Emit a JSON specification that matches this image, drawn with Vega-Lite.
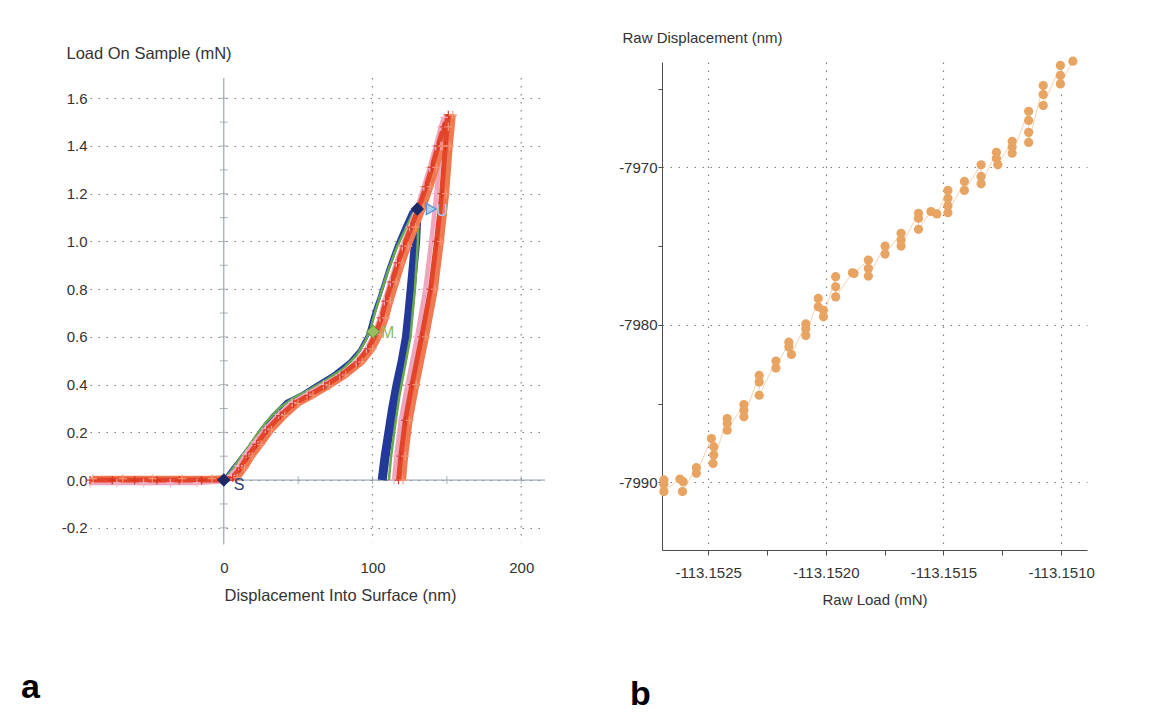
{
  "$schema": "https://vega.github.io/schema/vega-lite/v6.json",
  "background": "white",
  "padding": {"left": 21, "top": 30, "right": 10, "bottom": 4},
  "bounds": "flush",
  "spacing": 117,
  "config": {
    "view": {"stroke": null},
    "axis": {
      "labelFont": "Liberation Sans", "titleFont": "Liberation Sans",
      "labelFontSize": 15, "titleFontSize": 15,
      "labelColor": "#333333", "titleColor": "#333333", "titleFontWeight": "normal",
      "gridColor": "#808080", "gridDash": [1.5, 6.5], "gridWidth": 1.2
    }
  },
  "datasets": {
    "curves": [
      {"s":"A","o":1,"d":-90,"p":0},{"s":"A","o":2,"d":-45,"p":0},{"s":"A","o":3,"d":0,"p":0},{"s":"A","o":4,"d":5,"p":0.042},{"s":"A","o":5,"d":10.6,"p":0.087},{"s":"A","o":6,"d":17.3,"p":0.14},{"s":"A","o":7,"d":24,"p":0.202},{"s":"A","o":8,"d":33,"p":0.272},{"s":"A","o":9,"d":42,"p":0.328},{"s":"A","o":10,"d":51,"p":0.356},{"s":"A","o":11,"d":62,"p":0.398},{"s":"A","o":12,"d":73,"p":0.44},{"s":"A","o":13,"d":84.5,"p":0.496},{"s":"A","o":14,"d":91.3,"p":0.545},{"s":"A","o":15,"d":96.8,"p":0.608},{"s":"A","o":16,"d":100.2,"p":0.684},{"s":"A","o":17,"d":102.5,"p":0.73},{"s":"A","o":18,"d":104.7,"p":0.768},{"s":"A","o":19,"d":110.3,"p":0.88},{"s":"A","o":20,"d":115.9,"p":0.978},{"s":"A","o":21,"d":121.5,"p":1.062},{"s":"A","o":22,"d":126,"p":1.124},{"s":"A","o":23,"d":130,"p":1.136},
      {"s":"Au","o":1,"d":130,"p":1.136},{"s":"Au","o":2,"d":129,"p":1.0},{"s":"Au","o":3,"d":127.5,"p":0.9},{"s":"Au","o":4,"d":126,"p":0.8},{"s":"Au","o":5,"d":124.5,"p":0.7},{"s":"Au","o":6,"d":122.8,"p":0.6},{"s":"Au","o":7,"d":120,"p":0.5},{"s":"Au","o":8,"d":116.5,"p":0.4},{"s":"Au","o":9,"d":113.5,"p":0.3},{"s":"Au","o":10,"d":111,"p":0.2},{"s":"Au","o":11,"d":108.5,"p":0.1},{"s":"Au","o":12,"d":106.5,"p":0},
      {"s":"B","o":1,"d":0,"p":0},{"s":"B","o":2,"d":4,"p":0.03},{"s":"B","o":3,"d":9,"p":0.075},{"s":"B","o":4,"d":15,"p":0.125},{"s":"B","o":5,"d":21,"p":0.18},{"s":"B","o":6,"d":28,"p":0.24},{"s":"B","o":7,"d":37,"p":0.3},{"s":"B","o":8,"d":47,"p":0.345},{"s":"B","o":9,"d":58,"p":0.38},{"s":"B","o":10,"d":69,"p":0.42},{"s":"B","o":11,"d":80,"p":0.465},{"s":"B","o":12,"d":89,"p":0.52},{"s":"B","o":13,"d":95,"p":0.58},{"s":"B","o":14,"d":99,"p":0.64},{"s":"B","o":15,"d":102,"p":0.71},{"s":"B","o":16,"d":105,"p":0.77},{"s":"B","o":17,"d":110,"p":0.87},{"s":"B","o":18,"d":116,"p":0.97},{"s":"B","o":19,"d":122,"p":1.05},{"s":"B","o":20,"d":127,"p":1.115},{"s":"B","o":21,"d":131,"p":1.14},{"s":"B","o":22,"d":130.5,"p":1.0},{"s":"B","o":23,"d":128.5,"p":0.8},{"s":"B","o":24,"d":125.5,"p":0.6},{"s":"B","o":25,"d":121,"p":0.45},{"s":"B","o":26,"d":118,"p":0.35},{"s":"B","o":27,"d":115,"p":0.22},{"s":"B","o":28,"d":112.5,"p":0.1},{"s":"B","o":29,"d":111,"p":0},
      {"s":"C","o":1,"d":-90,"p":-0.012},{"s":"C","o":2,"d":-72,"p":-0.012},{"s":"C","o":3,"d":-54,"p":-0.012},{"s":"C","o":4,"d":-36,"p":-0.012},{"s":"C","o":5,"d":-18,"p":-0.012},{"s":"C","o":6,"d":0,"p":-0.005},{"s":"C","o":7,"d":5,"p":0.02},{"s":"C","o":8,"d":10,"p":0.06},{"s":"C","o":9,"d":15,"p":0.11},{"s":"C","o":10,"d":21,"p":0.16},{"s":"C","o":11,"d":28,"p":0.215},{"s":"C","o":12,"d":37,"p":0.275},{"s":"C","o":13,"d":46,"p":0.325},{"s":"C","o":14,"d":56,"p":0.36},{"s":"C","o":15,"d":67,"p":0.4},{"s":"C","o":16,"d":78,"p":0.44},{"s":"C","o":17,"d":89,"p":0.495},{"s":"C","o":18,"d":96,"p":0.55},{"s":"C","o":19,"d":101,"p":0.61},{"s":"C","o":20,"d":105,"p":0.68},{"s":"C","o":21,"d":108,"p":0.75},{"s":"C","o":22,"d":112,"p":0.83},{"s":"C","o":23,"d":116,"p":0.91},{"s":"C","o":24,"d":120,"p":0.98},{"s":"C","o":25,"d":125,"p":1.06},{"s":"C","o":26,"d":130,"p":1.14},{"s":"C","o":27,"d":134.5,"p":1.23},{"s":"C","o":28,"d":138.5,"p":1.31},{"s":"C","o":29,"d":142.5,"p":1.4},{"s":"C","o":30,"d":146,"p":1.48},{"s":"C","o":31,"d":148,"p":1.52},{"s":"C","o":32,"d":146,"p":1.4},{"s":"C","o":33,"d":143,"p":1.2},{"s":"C","o":34,"d":139.5,"p":1.0},{"s":"C","o":35,"d":135.5,"p":0.8},{"s":"C","o":36,"d":130,"p":0.6},{"s":"C","o":37,"d":123.5,"p":0.4},{"s":"C","o":38,"d":119,"p":0.25},{"s":"C","o":39,"d":116,"p":0.1},{"s":"C","o":40,"d":114.5,"p":0},
      {"s":"D","o":1,"d":-90,"p":0},{"s":"D","o":2,"d":-75,"p":0},{"s":"D","o":3,"d":-60,"p":0},{"s":"D","o":4,"d":-45,"p":0},{"s":"D","o":5,"d":-30,"p":0},{"s":"D","o":6,"d":-15,"p":0},{"s":"D","o":7,"d":0,"p":0},{"s":"D","o":8,"d":6,"p":0.01},{"s":"D","o":9,"d":11,"p":0.05},{"s":"D","o":10,"d":16,"p":0.1},{"s":"D","o":11,"d":22,"p":0.15},{"s":"D","o":12,"d":29,"p":0.21},{"s":"D","o":13,"d":38,"p":0.27},{"s":"D","o":14,"d":47,"p":0.32},{"s":"D","o":15,"d":57,"p":0.355},{"s":"D","o":16,"d":68,"p":0.395},{"s":"D","o":17,"d":79,"p":0.44},{"s":"D","o":18,"d":90,"p":0.495},{"s":"D","o":19,"d":97,"p":0.55},{"s":"D","o":20,"d":102,"p":0.61},{"s":"D","o":21,"d":106,"p":0.68},{"s":"D","o":22,"d":109,"p":0.75},{"s":"D","o":23,"d":113,"p":0.83},{"s":"D","o":24,"d":117,"p":0.91},{"s":"D","o":25,"d":121,"p":0.98},{"s":"D","o":26,"d":126,"p":1.06},{"s":"D","o":27,"d":131,"p":1.14},{"s":"D","o":28,"d":136,"p":1.23},{"s":"D","o":29,"d":140,"p":1.31},{"s":"D","o":30,"d":144,"p":1.4},{"s":"D","o":31,"d":148,"p":1.48},{"s":"D","o":32,"d":151,"p":1.53},{"s":"D","o":33,"d":149,"p":1.4},{"s":"D","o":34,"d":146.5,"p":1.2},{"s":"D","o":35,"d":143,"p":1.0},{"s":"D","o":36,"d":139,"p":0.8},{"s":"D","o":37,"d":133,"p":0.6},{"s":"D","o":38,"d":126.5,"p":0.4},{"s":"D","o":39,"d":122,"p":0.25},{"s":"D","o":40,"d":119,"p":0.1},{"s":"D","o":41,"d":117.5,"p":0},
      {"s":"E","o":1,"d":-88,"p":0.006},{"s":"E","o":2,"d":-68,"p":0.006},{"s":"E","o":3,"d":-48,"p":0.006},{"s":"E","o":4,"d":-28,"p":0.006},{"s":"E","o":5,"d":-8,"p":0.006},{"s":"E","o":6,"d":9,"p":0.01},{"s":"E","o":7,"d":14,"p":0.05},{"s":"E","o":8,"d":19,"p":0.1},{"s":"E","o":9,"d":25,"p":0.15},{"s":"E","o":10,"d":32,"p":0.21},{"s":"E","o":11,"d":41,"p":0.27},{"s":"E","o":12,"d":50,"p":0.32},{"s":"E","o":13,"d":60,"p":0.355},{"s":"E","o":14,"d":71,"p":0.395},{"s":"E","o":15,"d":82,"p":0.44},{"s":"E","o":16,"d":93,"p":0.495},{"s":"E","o":17,"d":100,"p":0.55},{"s":"E","o":18,"d":105,"p":0.61},{"s":"E","o":19,"d":109,"p":0.68},{"s":"E","o":20,"d":112,"p":0.75},{"s":"E","o":21,"d":116,"p":0.83},{"s":"E","o":22,"d":120,"p":0.91},{"s":"E","o":23,"d":124,"p":0.98},{"s":"E","o":24,"d":129,"p":1.06},{"s":"E","o":25,"d":134,"p":1.14},{"s":"E","o":26,"d":139,"p":1.23},{"s":"E","o":27,"d":143,"p":1.31},{"s":"E","o":28,"d":147,"p":1.4},{"s":"E","o":29,"d":151,"p":1.48},{"s":"E","o":30,"d":154,"p":1.53},{"s":"E","o":31,"d":152,"p":1.4},{"s":"E","o":32,"d":149.5,"p":1.2},{"s":"E","o":33,"d":146,"p":1.0},{"s":"E","o":34,"d":142,"p":0.8},{"s":"E","o":35,"d":136,"p":0.6},{"s":"E","o":36,"d":129.5,"p":0.4},{"s":"E","o":37,"d":125,"p":0.25},{"s":"E","o":38,"d":122,"p":0.1},{"s":"E","o":39,"d":120.5,"p":0}
    ],
    "marks": [
      {"k":"S","d":0,"p":0},{"k":"X","d":130.1,"p":1.136},{"k":"M","d":100.4,"p":0.622},{"k":"U","d":139.5,"p":1.136}
    ],
    "lticks": [
      {"a":"y","d":0,"p":-0.2},{"a":"y","d":0,"p":-0.1},{"a":"y","d":0,"p":0},{"a":"y","d":0,"p":0.1},{"a":"y","d":0,"p":0.2},{"a":"y","d":0,"p":0.3},{"a":"y","d":0,"p":0.4},{"a":"y","d":0,"p":0.5},{"a":"y","d":0,"p":0.6},{"a":"y","d":0,"p":0.7},{"a":"y","d":0,"p":0.8},{"a":"y","d":0,"p":0.9},{"a":"y","d":0,"p":1.0},{"a":"y","d":0,"p":1.1},{"a":"y","d":0,"p":1.2},{"a":"y","d":0,"p":1.3},{"a":"y","d":0,"p":1.4},{"a":"y","d":0,"p":1.5},{"a":"y","d":0,"p":1.6},
      {"a":"x","d":50,"p":0},{"a":"x","d":100,"p":0},{"a":"x","d":150,"p":0},{"a":"x","d":200,"p":0}
    ],
    "raw": [
      {"i":1,"x":-113.152688,"y":-7989.85},{"i":2,"x":-113.152688,"y":-7990.13},{"i":3,"x":-113.152688,"y":-7990.59},{"i":4,"x":-113.15262,"y":-7989.79},{"i":5,"x":-113.152606,"y":-7989.96},{"i":6,"x":-113.152609,"y":-7990.59},{"i":7,"x":-113.15255,"y":-7989.07},{"i":8,"x":-113.15255,"y":-7989.43},{"i":9,"x":-113.152486,"y":-7987.22},{"i":10,"x":-113.152476,"y":-7987.74},{"i":11,"x":-113.152476,"y":-7988.27},{"i":12,"x":-113.152479,"y":-7988.8},{"i":13,"x":-113.152419,"y":-7985.95},{"i":14,"x":-113.152419,"y":-7986.27},{"i":15,"x":-113.152419,"y":-7986.69},{"i":16,"x":-113.152348,"y":-7985.06},{"i":17,"x":-113.152348,"y":-7985.42},{"i":18,"x":-113.152348,"y":-7985.84},{"i":19,"x":-113.152283,"y":-7983.21},{"i":20,"x":-113.152283,"y":-7983.63},{"i":21,"x":-113.152283,"y":-7984.47},{"i":22,"x":-113.152212,"y":-7982.3},{"i":23,"x":-113.152212,"y":-7982.74},{"i":24,"x":-113.152157,"y":-7981.1},{"i":25,"x":-113.152157,"y":-7981.41},{"i":26,"x":-113.152146,"y":-7981.88},{"i":27,"x":-113.152085,"y":-7979.94},{"i":28,"x":-113.152085,"y":-7980.25},{"i":29,"x":-113.152085,"y":-7980.68},{"i":30,"x":-113.152032,"y":-7978.32},{"i":31,"x":-113.152032,"y":-7978.85},{"i":32,"x":-113.15201,"y":-7979.07},{"i":33,"x":-113.15201,"y":-7979.49},{"i":34,"x":-113.151958,"y":-7976.94},{"i":35,"x":-113.151958,"y":-7977.58},{"i":36,"x":-113.151958,"y":-7978.22},{"i":37,"x":-113.151887,"y":-7976.69},{"i":38,"x":-113.15188,"y":-7976.73},{"i":39,"x":-113.151819,"y":-7975.88},{"i":40,"x":-113.151819,"y":-7976.41},{"i":41,"x":-113.151819,"y":-7976.9},{"i":42,"x":-113.151748,"y":-7974.99},{"i":43,"x":-113.151748,"y":-7975.5},{"i":44,"x":-113.15168,"y":-7974.18},{"i":45,"x":-113.15168,"y":-7974.61},{"i":46,"x":-113.15168,"y":-7974.99},{"i":47,"x":-113.151606,"y":-7972.91},{"i":48,"x":-113.151606,"y":-7973.23},{"i":49,"x":-113.151606,"y":-7973.93},{"i":50,"x":-113.151553,"y":-7972.8},{"i":51,"x":-113.151528,"y":-7972.95},{"i":52,"x":-113.151481,"y":-7971.46},{"i":53,"x":-113.151481,"y":-7971.95},{"i":54,"x":-113.151481,"y":-7972.44},{"i":55,"x":-113.151481,"y":-7972.87},{"i":56,"x":-113.151411,"y":-7970.89},{"i":57,"x":-113.151411,"y":-7971.46},{"i":58,"x":-113.15134,"y":-7969.83},{"i":59,"x":-113.15134,"y":-7970.57},{"i":60,"x":-113.15134,"y":-7971.04},{"i":61,"x":-113.151275,"y":-7969.04},{"i":62,"x":-113.151275,"y":-7969.41},{"i":63,"x":-113.151269,"y":-7969.83},{"i":64,"x":-113.151208,"y":-7968.34},{"i":65,"x":-113.151208,"y":-7968.7},{"i":66,"x":-113.151208,"y":-7969.09},{"i":67,"x":-113.151138,"y":-7966.43},{"i":68,"x":-113.151138,"y":-7967.01},{"i":69,"x":-113.151138,"y":-7967.77},{"i":70,"x":-113.151138,"y":-7968.41},{"i":71,"x":-113.151076,"y":-7964.8},{"i":72,"x":-113.151076,"y":-7965.37},{"i":73,"x":-113.151076,"y":-7966.07},{"i":74,"x":-113.151003,"y":-7963.52},{"i":75,"x":-113.151003,"y":-7964.16},{"i":76,"x":-113.151003,"y":-7964.69},{"i":77,"x":-113.15095,"y":-7963.25}
    ]
  },
  "hconcat": [
    {
      "width": 455,
      "height": 488,
      "title": {"text": "a", "orient": "bottom", "anchor": "start", "frame": "group", "dx": -69, "offset": 67, "fontSize": 34, "fontWeight": "bold", "font": "Liberation Sans", "color": "#000000"},
      "layer": [
        {
          "data": {"values": [{"d": 100}, {"d": 200}]},
          "mark": {"type": "rule", "color": "#808080", "strokeDash": [1.5, 6.5], "strokeWidth": 1.2},
          "encoding": {
            "x": {"field": "d", "type": "quantitative"},
            "y": {"datum": 1.685, "type": "quantitative"},
            "y2": {"datum": -0.26}
          }
        },
        {
          "data": {"values": [{}]},
          "mark": {"type": "rule", "color": "#8896a6", "strokeWidth": 1},
          "encoding": {
            "x": {"datum": 0, "type": "quantitative"},
            "y": {"datum": 1.685, "type": "quantitative"},
            "y2": {"datum": -0.27}
          }
        },
        {
          "data": {"values": [{}]},
          "mark": {"type": "rule", "color": "#8896a6", "strokeWidth": 1},
          "encoding": {
            "y": {"datum": 0, "type": "quantitative"},
            "x": {"datum": -90, "type": "quantitative"},
            "x2": {"datum": 216}
          }
        },
        {
          "data": {"name": "lticks"},
          "transform": [{"filter": "datum.a == 'y'"}],
          "mark": {"type": "tick", "orient": "horizontal", "size": 8, "thickness": 1, "color": "#8896a6"},
          "encoding": {
            "x": {"field": "d", "type": "quantitative"},
            "y": {"field": "p", "type": "quantitative"}
          }
        },
        {
          "data": {"name": "lticks"},
          "transform": [{"filter": "datum.a == 'x'"}],
          "mark": {"type": "tick", "orient": "vertical", "size": 8, "thickness": 1, "color": "#8896a6"},
          "encoding": {
            "x": {"field": "d", "type": "quantitative"},
            "y": {"field": "p", "type": "quantitative"}
          }
        },
        {
          "data": {"name": "curves"},
          "transform": [{"filter": "datum.s == 'A'"}],
          "mark": {"type": "line", "color": "#2340a0", "strokeWidth": 3.5},
          "encoding": {
            "x": {"field": "d", "type": "quantitative", "scale": {"domain": [-90, 216], "nice": false, "zero": false},
              "axis": {"title": "Displacement Into Surface (nm)", "titleFontSize": 16.5, "values": [0, 100, 200], "format": "d", "grid": false, "domain": false, "ticks": false, "labelPadding": 10, "labelFlush": false, "titleAlign": "left", "titleBaseline": "middle", "titleX": 134, "titleY": 45}},
            "y": {"field": "p", "type": "quantitative", "scale": {"domain": [-0.293, 1.752], "nice": false, "zero": false},
              "axis": {"title": "Load On Sample (mN)", "titleFontSize": 16.5, "values": [-0.2, 0, 0.2, 0.4, 0.6, 0.8, 1, 1.2, 1.4, 1.6], "format": ".1f", "labelExpr": "replace(datum.label, '\u2212', '-')", "grid": true, "domain": false, "ticks": false, "labelPadding": 3, "titleAngle": 0, "titleAlign": "left", "titleBaseline": "middle", "titleX": -24, "titleY": -9}},
            "order": {"field": "o", "type": "quantitative"}
          }
        },
        {
          "data": {"name": "curves"},
          "transform": [{"filter": "datum.s == 'Au'"}],
          "mark": {"type": "line", "color": "#22399a", "strokeWidth": 9},
          "encoding": {
            "x": {"field": "d", "type": "quantitative"},
            "y": {"field": "p", "type": "quantitative"},
            "order": {"field": "o", "type": "quantitative"}
          }
        },
        {
          "data": {"name": "curves"},
          "transform": [{"filter": "datum.s == 'B'"}],
          "mark": {"type": "line", "color": "#6aa84f", "strokeWidth": 2.5},
          "encoding": {
            "x": {"field": "d", "type": "quantitative"},
            "y": {"field": "p", "type": "quantitative"},
            "order": {"field": "o", "type": "quantitative"}
          }
        },
        {
          "data": {"name": "curves"},
          "transform": [{"filter": "datum.s == 'C'"}],
          "mark": {"type": "line", "color": "#f0a5bf", "strokeWidth": 4.5},
          "encoding": {
            "x": {"field": "d", "type": "quantitative"},
            "y": {"field": "p", "type": "quantitative"},
            "order": {"field": "o", "type": "quantitative"}
          }
        },
        {
          "data": {"name": "curves"},
          "transform": [{"filter": "datum.s == 'E'"}],
          "mark": {"type": "line", "color": "#ef7a52", "strokeWidth": 6},
          "encoding": {
            "x": {"field": "d", "type": "quantitative"},
            "y": {"field": "p", "type": "quantitative"},
            "order": {"field": "o", "type": "quantitative"}
          }
        },
        {
          "data": {"name": "curves"},
          "transform": [{"filter": "datum.s == 'D'"}],
          "mark": {"type": "line", "color": "#e3452b", "strokeWidth": 5},
          "encoding": {
            "x": {"field": "d", "type": "quantitative"},
            "y": {"field": "p", "type": "quantitative"},
            "order": {"field": "o", "type": "quantitative"}
          }
        },
        {
          "data": {"name": "curves"},
          "transform": [{"filter": "datum.s == 'C' || datum.s == 'D' || datum.s == 'E'"}],
          "mark": {"type": "point", "shape": "M-1,0H1M0,-1V1", "filled": false, "size": 70, "strokeWidth": 1.3, "opacity": 0.9},
          "encoding": {
            "x": {"field": "d", "type": "quantitative"},
            "y": {"field": "p", "type": "quantitative"},
            "color": {"field": "s", "type": "nominal", "scale": {"domain": ["C", "D", "E"], "range": ["#f3b5cc", "#d8321c", "#f59a78"]}, "legend": null}
          }
        },
        {
          "data": {"name": "marks"},
          "transform": [{"filter": "datum.k == 'S' || datum.k == 'X'"}],
          "mark": {"type": "point", "shape": "diamond", "filled": true, "size": 180, "color": "#1c2a68", "opacity": 1},
          "encoding": {
            "x": {"field": "d", "type": "quantitative"},
            "y": {"field": "p", "type": "quantitative"}
          }
        },
        {
          "data": {"name": "marks"},
          "transform": [{"filter": "datum.k == 'M'"}],
          "mark": {"type": "point", "shape": "diamond", "filled": true, "size": 170, "fill": "#95bf62", "stroke": "#5f8a35", "strokeWidth": 1, "opacity": 1},
          "encoding": {
            "x": {"field": "d", "type": "quantitative"},
            "y": {"field": "p", "type": "quantitative"}
          }
        },
        {
          "data": {"name": "marks"},
          "transform": [{"filter": "datum.k == 'U'"}],
          "mark": {"type": "point", "shape": "triangle-right", "filled": true, "size": 130, "fill": "#a9cdf2", "stroke": "#4f8fd6", "strokeWidth": 1.2, "opacity": 1},
          "encoding": {
            "x": {"field": "d", "type": "quantitative"},
            "y": {"field": "p", "type": "quantitative"}
          }
        },
        {
          "data": {"name": "marks"},
          "transform": [{"filter": "datum.k == 'S'"}],
          "mark": {"type": "text", "align": "left", "baseline": "middle", "dx": 10, "dy": 5, "fontSize": 16, "font": "Liberation Sans", "color": "#2c3c7c"},
          "encoding": {
            "x": {"field": "d", "type": "quantitative"},
            "y": {"field": "p", "type": "quantitative"},
            "text": {"field": "k"}
          }
        },
        {
          "data": {"name": "marks"},
          "transform": [{"filter": "datum.k == 'M'"}],
          "mark": {"type": "text", "align": "left", "baseline": "middle", "dx": 8, "dy": 1, "fontSize": 16, "font": "Liberation Sans", "color": "#8cbb5c"},
          "encoding": {
            "x": {"field": "d", "type": "quantitative"},
            "y": {"field": "p", "type": "quantitative"},
            "text": {"field": "k"}
          }
        },
        {
          "data": {"name": "marks"},
          "transform": [{"filter": "datum.k == 'U'"}],
          "mark": {"type": "text", "align": "left", "baseline": "middle", "dx": 5, "dy": 2, "fontSize": 16, "font": "Liberation Sans", "color": "#aac7ec"},
          "encoding": {
            "x": {"field": "d", "type": "quantitative"},
            "y": {"field": "p", "type": "quantitative"},
            "text": {"field": "k"}
          }
        }
      ]
    },
    {
      "width": 425,
      "height": 488,
      "title": {"text": "b", "orient": "bottom", "anchor": "start", "frame": "group", "dx": -32, "offset": 71, "fontSize": 34, "fontWeight": "bold", "font": "Liberation Sans", "color": "#000000"},
      "data": {"name": "raw"},
      "layer": [
        {
          "mark": {"type": "line", "color": "#f4d3b2", "strokeWidth": 1},
          "encoding": {
            "x": {"field": "x", "type": "quantitative", "scale": {"domain": [-113.152696, -113.15089], "nice": false, "zero": false},
              "axis": {"title": "Raw Load (mN)", "values": [-113.1525, -113.15225, -113.152, -113.15175, -113.1515, -113.15125, -113.151],
                "labelExpr": "abs(datum.value * 2000 - round(datum.value * 2000)) < 0.01 ? replace(format(datum.value, '.4f'), '\u2212', '-') : ''",
                "grid": true, "gridOpacity": {"condition": {"test": "abs(datum.value * 2000 - round(datum.value * 2000)) < 0.01", "value": 1}, "value": 0},
                "domain": true, "domainColor": "#4d4d4d", "ticks": true, "tickColor": "#4d4d4d", "tickSize": 5, "labelPadding": 10, "labelFlush": false,
                "titleBaseline": "middle", "titleY": 49}},
            "y": {"field": "y", "type": "quantitative", "scale": {"domain": [-7994.3, -7963.3], "nice": false, "zero": false},
              "axis": {"title": "Raw Displacement (nm)", "values": [-7990, -7985, -7980, -7975, -7970, -7965],
                "labelExpr": "datum.value % 10 == 0 ? replace(format(datum.value, 'd'), '\u2212', '-') : ''",
                "grid": true, "gridOpacity": {"condition": {"test": "datum.value % 10 == 0", "value": 1}, "value": 0},
                "domain": true, "domainColor": "#4d4d4d", "ticks": true, "tickColor": "#4d4d4d", "tickSize": 4, "labelPadding": 1,
                "titleAngle": 0, "titleAlign": "left", "titleBaseline": "middle", "titleX": -40, "titleY": -25}},
            "order": {"field": "i", "type": "quantitative"}
          }
        },
        {
          "mark": {"type": "circle", "color": "#e8a462", "opacity": 1, "size": 85},
          "encoding": {
            "x": {"field": "x", "type": "quantitative"},
            "y": {"field": "y", "type": "quantitative"}
          }
        }
      ]
    }
  ]
}
